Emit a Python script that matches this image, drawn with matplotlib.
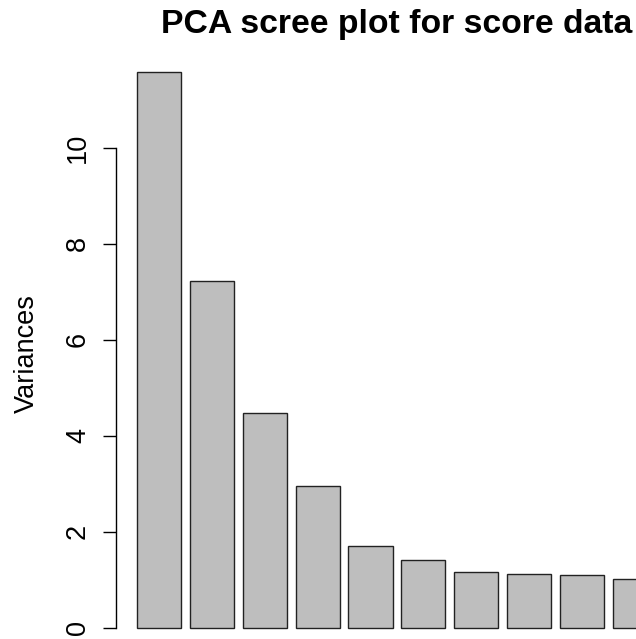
import matplotlib
matplotlib.use("Agg")
import matplotlib.pyplot as plt

# variances of the first 10 principal components
components = ["Comp.1", "Comp.2", "Comp.3", "Comp.4", "Comp.5",
              "Comp.6", "Comp.7", "Comp.8", "Comp.9", "Comp.10"]
variances = [11.58, 7.23, 4.47, 2.96, 1.71, 1.41, 1.17, 1.125, 1.10, 1.01]
y_ticks = [0, 2, 4, 6, 8, 10]

plt.rcParams['font.family'] = ['Liberation Sans', 'DejaVu Sans']

W, H = 636, 639
fig = plt.figure(figsize=(W / 100, H / 100), dpi=100)

# R barplot layout: width 1, space 0.2, axes extended 4%
n = len(variances)
lefts = [0.2 + 1.2 * i for i in range(n)]
x0, x1 = 0.2, lefts[-1] + 1.0
xpad = 0.04 * (x1 - x0)
ymax = max(variances)
ypad = 0.04 * ymax

# plot region in pixels (it runs off the right and bottom of the image)
left_px, right_px, top_px, bot_px = 116.2, 677.7, 49.6, 649.9
ax = fig.add_axes([left_px / W, 1 - bot_px / H,
                   (right_px - left_px) / W, (bot_px - top_px) / H])

ax.bar(lefts, variances, width=1.0, align='edge', color='#bebebe',
       edgecolor='#222222', linewidth=1.0)
ax.set_xlim(x0 - xpad, x1 + xpad)
ax.set_ylim(-ypad, ymax + ypad)

for s in ['top', 'right', 'bottom']:
    ax.spines[s].set_visible(False)
ax.spines['left'].set_bounds(0, 10)
ax.spines['left'].set_linewidth(1.0)
ax.set_xticks([])
ax.set_yticks(y_ticks)
ax.set_yticklabels([str(t) for t in y_ticks])
ax.tick_params(axis='y', length=9.4, width=1.0, pad=13.0, labelsize=19.5)
for lbl in ax.get_yticklabels():
    lbl.set_rotation(90)
    lbl.set_rotation_mode('anchor')
    lbl.set_ha('center')
    lbl.set_va('baseline')

fig.text(34 / W, 1 - 353.5 / H, "Variances", fontsize=19.5, rotation=90,
         rotation_mode='anchor', ha='center', va='baseline')
fig.text((left_px + right_px) / 2 / W, 1 - 32.5 / H, "PCA scree plot for score data",
         fontsize=24.3, fontweight='bold', ha='center', va='baseline')

fig.savefig("out.png", dpi=100)
